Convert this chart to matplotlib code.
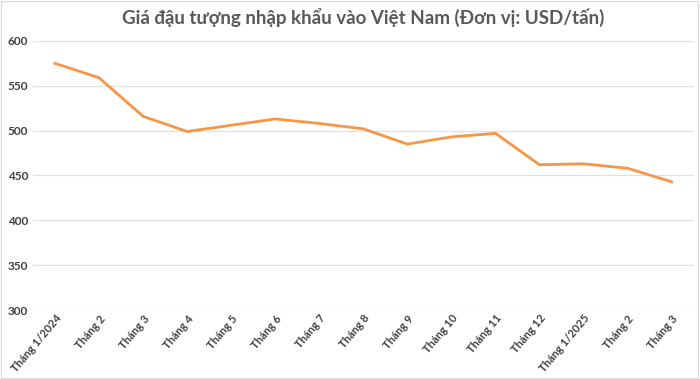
import matplotlib
matplotlib.use("Agg")
import matplotlib.pyplot as plt

plt.rcParams['font.family'] = ['Lato', 'DejaVu Sans']

# monthly import price, USD per tonne
months = ['Tháng 1/2024', 'Tháng 2', 'Tháng 3', 'Tháng 4', 'Tháng 5', 'Tháng 6',
          'Tháng 7', 'Tháng 8', 'Tháng 9', 'Tháng 10', 'Tháng 11', 'Tháng 12',
          'Tháng 1/2025', 'Tháng 2', 'Tháng 3']
prices = [575, 559, 516, 499, 506, 513, 508, 502, 485, 493, 497, 462, 463, 458, 443]
yticks = [300, 350, 400, 450, 500, 550, 600]

fig = plt.figure(figsize=(7, 3.79), dpi=100)
ax = fig.add_axes([0.047, 0.182, 0.944, 0.71])

x = list(range(len(months)))
ax.plot(x, prices, color='#F79646', lw=2.0, solid_joinstyle='miter', zorder=3)

ax.set_xlim(-0.5, len(months) - 0.5)
ax.set_ylim(300, 600)
ax.set_yticks(yticks)
ax.set_xticks(x)
ax.set_xticklabels(months, rotation=50, ha='right', va='top', rotation_mode='anchor')
ax.grid(axis='y', color='#E0E0E0', lw=0.9)
ax.set_axisbelow(True)
for s in ax.spines.values():
    s.set_visible(False)
ax.tick_params(length=0, colors='#404040', labelsize=8.5)
ax.tick_params(axis='x', pad=2, labelsize=8)
for t in ax.get_yticklabels() + ax.get_xticklabels():
    t.set_fontweight('bold')

ax.set_title('Giá đậu tượng nhập khẩu vào Việt Nam (Đơn vị: USD/tấn)',
             pad=12, fontsize=13.5, fontweight='bold', color='#595959')

# thin frame around whole chart
fig.patches.append(plt.Rectangle((0.002, 0.003), 0.995, 0.994, transform=fig.transFigure,
                                 fill=False, ec='#D9D9D9', lw=0.8))

fig.savefig('out.png', dpi=100)
